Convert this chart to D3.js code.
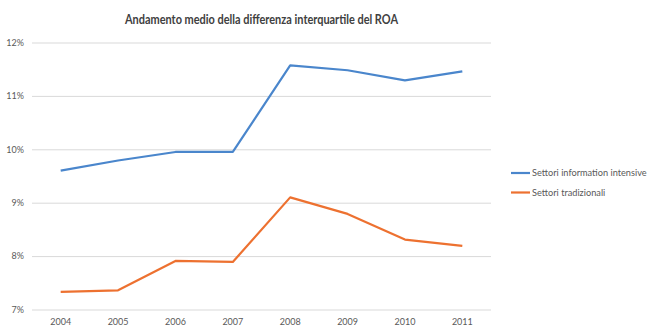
<!DOCTYPE html>
<html>
<head>
<meta charset="utf-8">
<script src="https://cdn.jsdelivr.net/npm/d3@7"></script>
<style>
  body { margin: 0; background: #fff; }
  svg text { font-family: Lato, "Open Sans", sans-serif; }
</style>
</head>
<body>
<svg id="chart" width="660" height="335"></svg>
<script>
'use strict';

var years = ['2004', '2005', '2006', '2007', '2008', '2009', '2010', '2011'];
var infoIntensive = [9.60, 9.79, 9.95, 9.95, 11.57, 11.48, 11.29, 11.46];
var tradizionali = [7.33, 7.36, 7.91, 7.89, 9.10, 8.79, 8.31, 8.19];
var yTicks = [7, 8, 9, 10, 11, 12];
var seriesNames = ['Settori information intensive', 'Settori tradizionali'];
var seriesColors = ['#4a86cc', '#ed7130'];

var svg = d3.select('#chart');

var x = d3.scaleBand().domain(years).range([32, 491]);
var y = d3.scaleLinear().domain([7, 12]).range([309.5, 42.5]);

// titolo (font stretto, compresso con textLength)
svg.append('text')
  .attr('x', 261.5).attr('y', 24)
  .attr('text-anchor', 'middle')
  .attr('textLength', 273).attr('lengthAdjust', 'spacingAndGlyphs')
  .style('font-size', '13.5px').style('font-weight', 'bold')
  .style('fill', '#404040')
  .text('Andamento medio della differenza interquartile del ROA');

// griglia orizzontale + etichette asse y
var yAxis = d3.axisLeft(y).tickValues(yTicks)
  .tickSize(-(491 - 32)).tickPadding(6)
  .tickFormat(function(d) { return d + '%'; });
var gy = svg.append('g').attr('transform', 'translate(32,0)').call(yAxis);
gy.select('.domain').remove();
gy.selectAll('.tick line').attr('stroke', '#d9d9d9').attr('stroke-width', 1);
gy.selectAll('.tick text').style('font-size', '9px').style('fill', '#595959')
  .attr('x', -8).attr('text-anchor', 'end');

// asse x
var xAxis = d3.axisBottom(x).tickSize(0).tickPadding(9);
var gx = svg.append('g').attr('transform', 'translate(0,309.5)').call(xAxis);
gx.select('.domain').remove();
gx.selectAll('.tick text').style('font-size', '9px').style('fill', '#595959');

var line = d3.line()
  .x(function(d, i) { return x(years[i]) + x.bandwidth() / 2; })
  .y(function(d) { return y(d); });

[infoIntensive, tradizionali].forEach(function(vals, k) {
  svg.append('path').datum(vals)
    .attr('d', line)
    .attr('fill', 'none')
    .attr('stroke', seriesColors[k])
    .attr('stroke-width', 2.2)
    .attr('stroke-linejoin', 'round');
});

// legenda
var legend = svg.append('g').attr('transform', 'translate(511,173)');
seriesNames.forEach(function(name, k) {
  var row = legend.append('g').attr('transform', 'translate(0,' + (k * 19.5) + ')');
  row.append('line').attr('x1', 0).attr('x2', 19).attr('y1', 0).attr('y2', 0)
    .attr('stroke', seriesColors[k]).attr('stroke-width', 2.2);
  row.append('text').attr('x', 21).attr('y', 3)
    .style('font-size', '9.2px').style('fill', '#595959')
    .text(name);
});
</script>
</body>
</html>
